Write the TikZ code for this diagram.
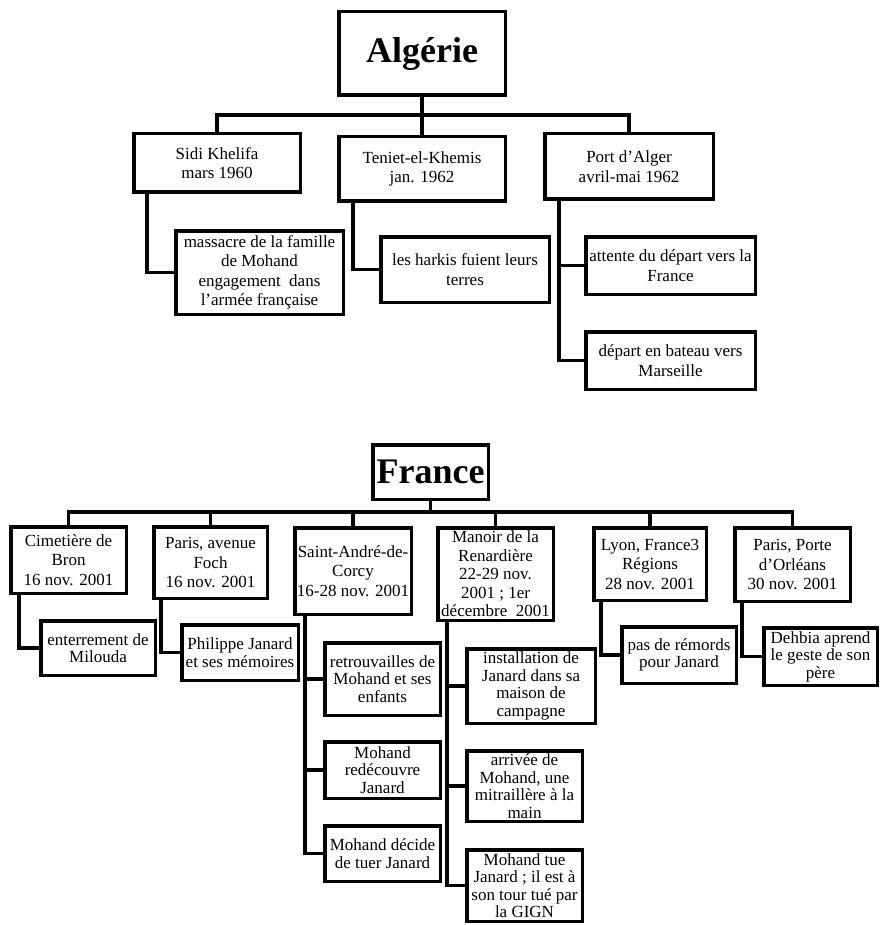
\documentclass[tikz,border=0pt]{standalone}
\usepackage{fontspec}
\setmainfont{Liberation Serif}
\begin{document}
\begin{tikzpicture}[x=1pt,y=-1pt,
  box/.style={draw, line width=3.5pt, inner sep=0pt, align=center,
    font=\fontsize{17}{19.5}\selectfont},
  kid/.style={box, font=\fontsize{17}{17.5}\selectfont},
  title/.style={box, font=\fontsize{36}{40}\selectfont\bfseries},
  bx/.style 2 args={minimum width=#1, minimum height=#2},
  conn/.style={line width=3.5pt}]
\useasboundingbox (0,0) rectangle (880,925);

% ---------------- Algerie ----------------
\node[title, bx={166.5pt}{83.5pt}] (alg) at (422,53.5) {Algérie};
\node[box, bx={166.5pt}{58.5pt}] (sidi) at (217,163) {Sidi Khelifa\\mars 1960};
\node[box, bx={166.5pt}{64.5pt}] (ten) at (422,169) {Teniet-el-Khemis\\jan. 1962};
\node[box, bx={168.5pt}{65.5pt}] (port) at (629,166.5) {Port d'Alger\\avril-mai 1962};

\node[box, bx={167.5pt}{83.5pt}] (mass) at (259.5,272.5) {massacre de la famille\\de Mohand\\engagement\ \ dans\\l'armée française};
\node[box, bx={168.5pt}{65.5pt}] (hark) at (465,269.5) {les harkis fuient leurs\\terres};
\node[box, bx={169.5pt}{57.5pt}] (att) at (670.5,265.5) {attente du départ vers la\\France};
\node[box, bx={169.5pt}{57.5pt}] (dep) at (670.5,360.5) {départ en bateau vers\\Marseille};

\coordinate (abus) at (422,115);
\draw[conn] (alg.south) -- (ten.north);
\draw[conn] (sidi.north) |- (abus) -| (port.north);
\draw[conn] ([xshift=15pt]sidi.south west) |- (mass.west);
\draw[conn] ([xshift=16pt]ten.south west) |- (hark.west);
\draw[conn] ([xshift=16pt]port.south west) |- (dep.west);
\draw[conn] ([xshift=16pt]port.south west) |- (att.west);

% ---------------- France ----------------
\node[title, bx={115.5pt}{54.5pt}] (fr) at (430.5,472) {France};
\node[box, bx={115.5pt}{66.5pt}] (cim) at (68.5,560) {Cimetière de\\Bron\\16 nov. 2001};
\node[box, bx={113.5pt}{71.5pt}] (foch) at (210.5,562.5) {Paris, avenue\\Foch\\16 nov. 2001};
\node[box, bx={116.5pt}{86.5pt}] (sa) at (353,571) {Saint-André-de-\\Corcy\\16-28 nov. 2001};
\node[box, bx={115.5pt}{92.5pt}, font=\fontsize{17}{18.5}\selectfont] (man) at (495.5,574) {Manoir de la\\Renardière\\22-29 nov.\\2001 ; 1er\\décembre\ \ 2001};
\node[box, bx={112.5pt}{72.5pt}] (lyon) at (650,564) {Lyon, France3\\Régions\\28 nov. 2001};
\node[box, bx={115.5pt}{73.5pt}] (porte) at (792.5,564.5) {Paris, Porte\\d'Orléans\\30 nov. 2001};

\node[kid, bx={114.5pt}{54.5pt}] (ent) at (98,648) {enterrement de\\Milouda};
\node[kid, bx={116.5pt}{55.5pt}] (phil) at (240,652.5) {Philippe Janard\\et ses mémoires};
\node[kid, bx={115.5pt}{72.5pt}] (ret) at (382.5,679) {retrouvailles de\\Mohand et ses\\enfants};
\node[kid, bx={115.5pt}{56.5pt}] (red) at (382.5,770) {Mohand\\redécouvre\\Janard};
\node[kid, bx={115.5pt}{55.5pt}] (dec) at (382.5,853.5) {Mohand décide\\de tuer Janard};
\node[kid, bx={128.5pt}{74.5pt}] (inst) at (531,686) {installation de\\Janard dans sa\\maison de\\campagne};
\node[kid, bx={115.5pt}{70.5pt}] (arr) at (524.5,786) {arrivée de\\Mohand, une\\mitraillère à la\\main};
\node[kid, bx={115.5pt}{71.5pt}] (tue) at (524.5,885.5) {Mohand tue\\Janard ; il est à\\son tour tué par\\la GIGN};
\node[kid, bx={114.5pt}{56.5pt}] (rem) at (679,655) {pas de rémords\\pour Janard};
\node[kid, bx={113.5pt}{57.5pt}] (deh) at (820.5,656.5) {Dehbia aprend\\le geste de son\\père};

\coordinate (fbus) at (430.5,512);
\draw[conn] (fr.south) -- (fbus);
\draw[conn] (cim.north) |- (fbus) -| (porte.north);
\draw[conn] (foch.north) -- (foch.north |- fbus);
\draw[conn] (sa.north) -- (sa.north |- fbus);
\draw[conn] (man.north) -- (man.north |- fbus);
\draw[conn] (lyon.north) -- (lyon.north |- fbus);

\draw[conn] ([xshift=10pt]cim.south west) |- (ent.west);
\draw[conn] ([xshift=9pt]foch.south west) |- (phil.west);
\draw[conn] ([xshift=12pt]sa.south west) |- (dec.west);
\draw[conn] ([xshift=12pt]sa.south west) |- (red.west);
\draw[conn] ([xshift=12pt]sa.south west) |- (ret.west);
\draw[conn] ([xshift=11pt]man.south west) |- (tue.west);
\draw[conn] ([xshift=11pt]man.south west) |- (arr.west);
\draw[conn] ([xshift=11pt]man.south west) |- (inst.west);
\draw[conn] ([xshift=9pt]lyon.south west) |- (rem.west);
\draw[conn] ([xshift=9pt]porte.south west) |- (deh.west);
\end{tikzpicture}
\end{document}
